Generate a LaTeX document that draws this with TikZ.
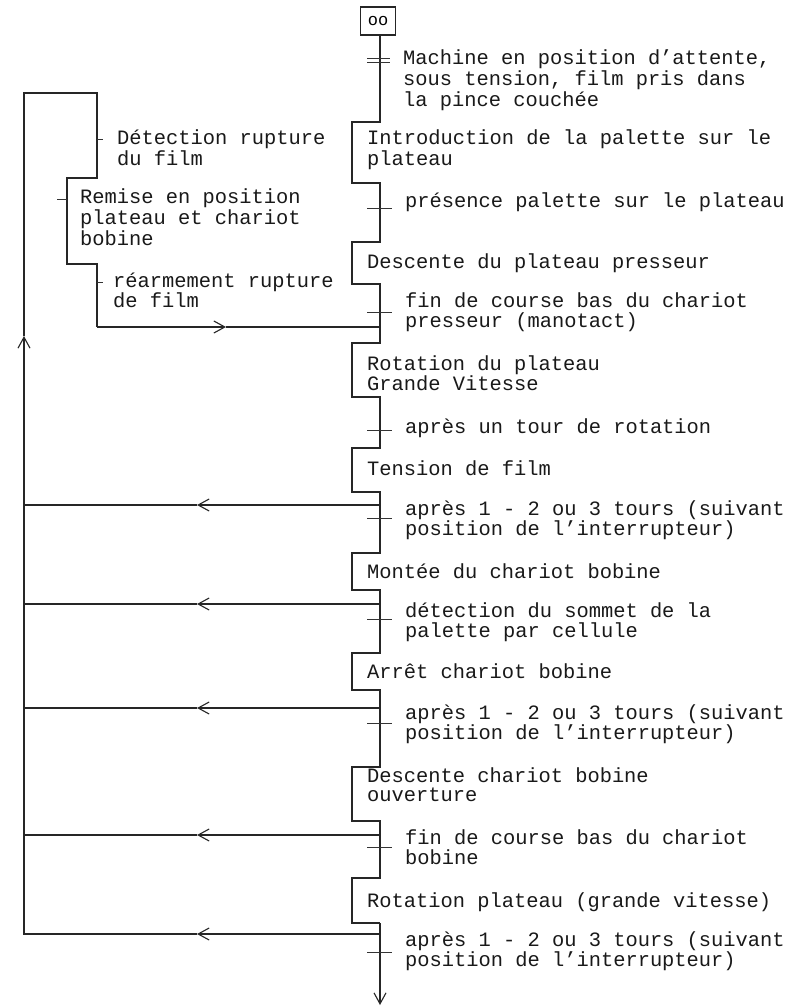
\documentclass[tikz,border=0pt]{standalone}
\usepackage{fontspec}
\setmainfont{Liberation Mono}
\setmonofont{Liberation Mono}
\usetikzlibrary{arrows.meta}
\newcommand\mylines[1]{\begin{tabular}[t]{@{}l@{}}#1\end{tabular}}
\tikzset{
  ln/.style={line width=1.2pt, draw=black!85},
  arr/.style={-{Straight Barb[length=11pt,width=12pt,line width=1.1pt]}},
  txt/.style={anchor=base west, inner sep=0pt, font=\fontsize{20.4}{19.6}\selectfont, text=black!90},
  tk/.style={line width=0.9pt, draw=black!80}
}
\begin{document}
\begin{tikzpicture}[x=1pt,y=-1pt]
\fill[white] (0,0) rectangle (794,1008);
\useasboundingbox (0,0) rectangle (794,1008);

% initial step
\node[ln, draw, minimum width=35pt, minimum height=28pt, inner sep=0pt,
      font=\fontsize{17}{17}\selectfont] (init) at (378,21) {oo};

% step brackets
\foreach \i/\t/\b in {1/122/183, 2/242/284, 3/343/397, 4/448/492,
                      5/553/590, 6/653/690, 7/767/821, 8/878/923}{
  \coordinate (t\i) at (380,\t);
  \coordinate (tl\i) at (352,\t);
  \coordinate (bl\i) at (352,\b);
  \coordinate (b\i) at (380,\b);
}
\coordinate (end) at (380,1005);
\coordinate (i0) at (init.south -| t1);

\draw[ln] (i0) -- (t1) -- (tl1) -- (bl1) -- (b1)
  -- (t2) -- (tl2) -- (bl2) -- (b2)
  -- (t3) -- (tl3) -- (bl3) -- (b3)
  -- (t4) -- (tl4) -- (bl4) -- (b4)
  -- (t5) -- (tl5) -- (bl5) -- (b5)
  -- (t6) -- (tl6) -- (bl6) -- (b6)
  -- (t7) -- (tl7) -- (bl7) -- (b7)
  -- (t8) -- (tl8) -- (bl8) -- (b8);
\draw[ln,arr] (b8) -- (end);

% transition ticks
\draw[tk] (367,58) -- (390,58);
\draw[tk] (367,62) -- (390,62);
\foreach \y in {208,312,430,518,619,723,847,952}{
  \draw[tk] (367,\y) -- (392,\y);
}

% return lines to the left
\foreach \i/\y in {1/505,2/604,3/708,4/835}{
  \coordinate (r\i) at (380,\y);
  \coordinate (ra\i) at (197,\y);
  \coordinate (rl\i) at (24,\y);
  \draw[ln,arr] (r\i) -- (ra\i);
  \draw[ln] (ra\i) -- (rl\i);
}
\coordinate (r5) at (380,934);
\coordinate (ra5) at (197,934);
\coordinate (c1) at (24,934);
\coordinate (up) at (24,336);
\coordinate (c2) at (24,93);
\coordinate (c3) at (97,93);
\coordinate (c4) at (97,178);
\coordinate (c5) at (67,178);
\coordinate (c6) at (67,264);
\coordinate (c7) at (97,264);
\coordinate (c8) at (97,327);
\coordinate (ar) at (226,327);
\coordinate (c9) at (380,327);
\draw[ln,arr] (r5) -- (ra5);
\draw[ln,arr] (ra5) -- (c1) -- (up);
\draw[ln] (up) -- (c2) -- (c3) -- (c4) -- (c5) -- (c6) -- (c7) -- (c8);
\draw[ln,arr] (c8) -- (ar);
\draw[ln] (ar) -- (c9);

% left ticks
\draw[tk] (97,139) -- (103,139);
\draw[tk] (57,199) -- (67,199);
\draw[tk] (97,282) -- (103,282);

% texts - main
\node[txt] (tr0) at (403,65) {\mylines{Machine en position d'attente,\\sous tension, film pris dans\\la pince couchée}};
\node[txt] (e1) at (367,145) {\mylines{Introduction de la palette sur le\\plateau}};
\node[txt] (tr1) at (405,208) {présence palette sur le plateau};
\node[txt] (e2) at (367,268) {Descente du plateau presseur};
\node[txt] (tr2) at (405,307) {\mylines{fin de course bas du chariot\\presseur (manotact)}};
\node[txt] (e3) at (367,370) {\mylines{Rotation du plateau\\Grande Vitesse}};
\node[txt] (tr3) at (405,433) {après un tour de rotation};
\node[txt] (e4) at (367,475) {Tension de film};
\node[txt] (tr4) at (405,515) {\mylines{après 1 - 2 ou 3 tours (suivant\\position de l'interrupteur)}};
\node[txt] (e5) at (367,578) {Montée du chariot bobine};
\node[txt] (tr5) at (405,617) {\mylines{détection du sommet de la\\palette par cellule}};
\node[txt] (e6) at (367,678) {Arrêt chariot bobine};
\node[txt] (tr6) at (405,719) {\mylines{après 1 - 2 ou 3 tours (suivant\\position de l'interrupteur)}};
\node[txt] (e7) at (367,782) {\mylines{Descente chariot bobine\\ouverture}};
\node[txt] (tr7) at (405,844) {\mylines{fin de course bas du chariot\\bobine}};
\node[txt] (e8) at (367,907) {Rotation plateau (grande vitesse)};
\node[txt] (tr8) at (405,946) {\mylines{après 1 - 2 ou 3 tours (suivant\\position de l'interrupteur)}};

% texts - left
\node[txt] (lt1) at (117,145) {\mylines{Détection rupture\\du film}};
\node[txt] (le1) at (80,204) {\mylines{Remise en position\\plateau et chariot\\bobine}};
\node[txt] (lt2) at (113,287) {\mylines{réarmement rupture\\de film}};
\end{tikzpicture}
\end{document}
